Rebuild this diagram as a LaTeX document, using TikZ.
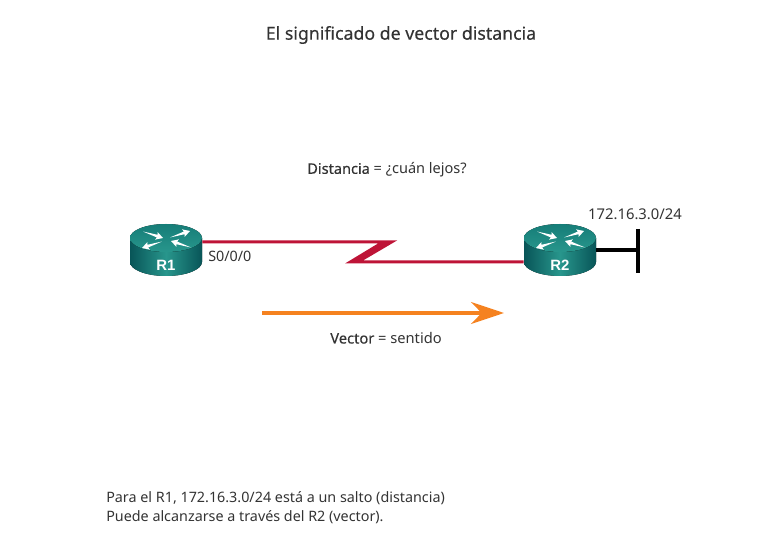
\documentclass[tikz,border=0pt]{standalone}
\usepackage{fontspec}
\setmainfont{Noto Sans}
\newfontfamily\medfont[FakeBold=0.25]{Noto Sans}
\newfontfamily\labfont{Liberation Sans}
\definecolor{txtgray}{RGB}{51,51,51}
\definecolor{linkred}{RGB}{190,20,55}
\definecolor{arroworange}{RGB}{245,130,32}
\definecolor{teallight}{RGB}{40,150,140}
\definecolor{tealmid}{RGB}{22,125,120}
\definecolor{tealdark}{RGB}{8,85,88}
\usetikzlibrary{arrows.meta,positioning,calc}
\tikzset{
  plaintxt/.style={font=\fontsize{10.75}{14.25}\selectfont,text=txtgray,inner sep=0pt},
  routerbox/.style={minimum width=54pt,minimum height=39pt,inner sep=0pt},
  routerlab/.style={font=\labfont\bfseries\fontsize{11.2}{12}\selectfont,text=white,inner sep=0pt},
}
\begin{document}
\begin{tikzpicture}[x=0.75pt,y=-0.75pt]
  \useasboundingbox (0,0) rectangle (757,538);
  \node[plaintxt,font=\medfont\fontsize{13.3}{16}\selectfont] (title) at (401,35) {El significado de vector distancia};
  \node[plaintxt,font=\fontsize{10.9}{14.25}\selectfont] (dist) at (387,170) {{\medfont Distancia} = ¿cuán lejos?};
  \foreach \name/\x/\lab in {r1/166/R1, r2/560/R2}{
    \fill[left color=tealdark,right color=tealdark,middle color=teallight]
      (\x-36,238) -- (\x-36,262) arc[start angle=180,end angle=360,x radius=27pt,y radius=10.5pt] -- (\x+36,238) -- cycle;
    \fill[top color=tealmid,bottom color=teallight] (\x,238) ellipse[x radius=27pt,y radius=10.5pt];
    \foreach \ax/\ay/\ang in {-3/238/-18, 24/231/18, -24/248/198, 5/241/162}{
      \fill[white,shift={(\x+\ax,\ay)},rotate=\ang]
        (0,0) -- (-7,-4) -- (-6,-1.4) -- (-21,0) -- (-6,1.4) -- (-7,4) -- cycle;
    }
    \node[routerbox] (\name) at (\x,250) {};
    \node[routerlab] (\name lab) at (\x,265) {\lab};
  }
  \fill[linkred] ($(r1.east)+(0,-9.5)$) -- (397,240.5) -- (363,260.5) -- ($(r2.west)+(0,10.5)$)
    -- ($(r2.west)+(0,13.5)$) -- (345,263.5) -- (378,243.5) -- ($(r1.east)+(0,-6.5)$) -- cycle;
  \node[plaintxt,anchor=west] (s000) at (208,256) {S0/0/0};
  \node[plaintxt,font=\fontsize{11.1}{14.25}\selectfont] (net) at (635,214) {172.16.3.0/24};
  \coordinate (barTop) at (638,229);
  \coordinate (barBot) at (638,273);
  \draw[black,line width=2.3pt] (r2.east) -- (r2.east -| barTop);
  \draw[black,line width=2.3pt] (barTop) -- (barBot);
  \coordinate (vecA) at (262,313);
  \coordinate (vecB) at (504,313);
  \draw[-{Stealth[length=24.75pt,width=16.5pt,inset=8pt]},arroworange,line width=2.4pt] (vecA) -- (vecB);
  \node[plaintxt,font=\fontsize{11}{14.25}\selectfont] (vec) at (386,338) {{\medfont Vector} = sentido};
  \node[plaintxt,anchor=north west,align=left] (note) at (106,491.5) {Para el R1, 172.16.3.0/24 está a un salto (distancia)\\Puede alcanzarse a través del R2 (vector).};
\end{tikzpicture}
\end{document}
